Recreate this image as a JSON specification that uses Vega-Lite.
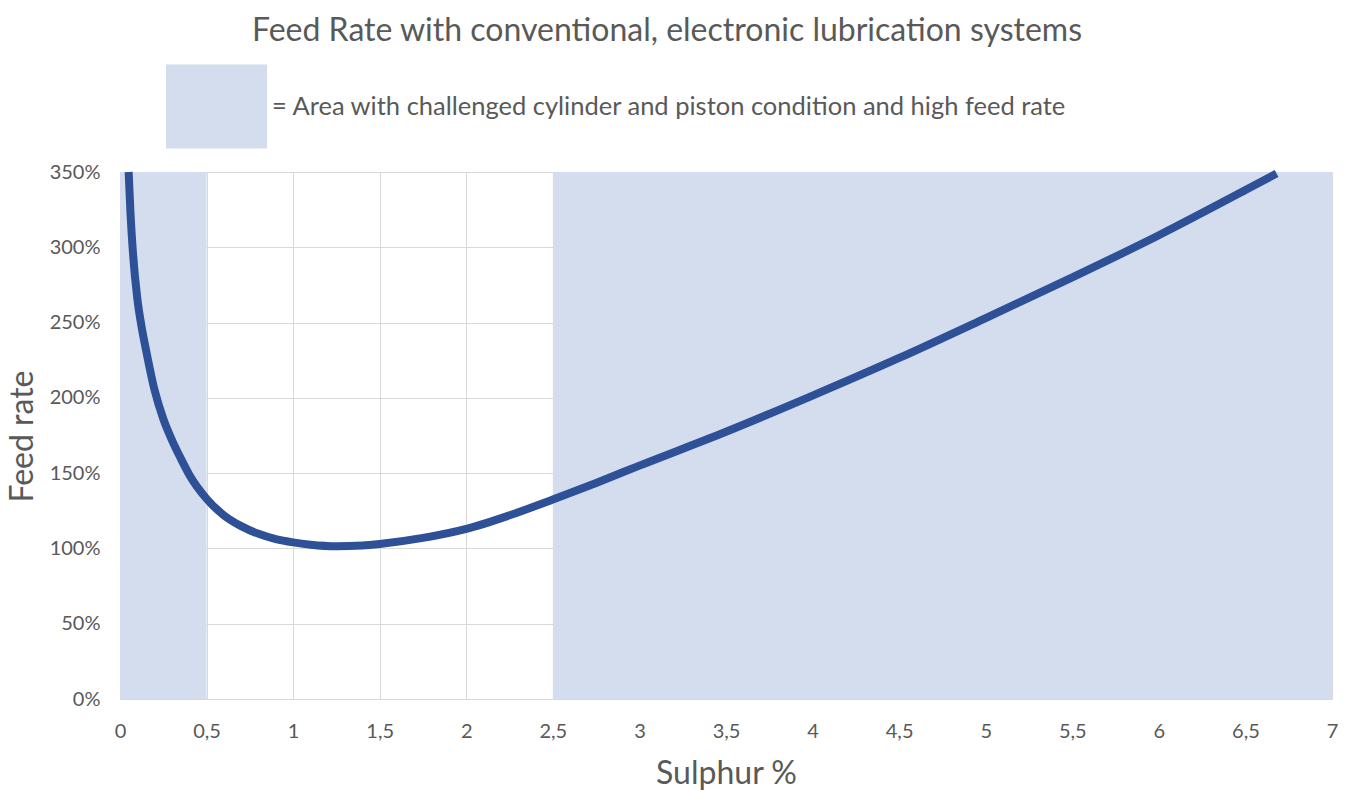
{
  "$schema": "https://vega.github.io/schema/vega-lite/v6.json",
  "width": 1212,
  "height": 527,
  "autosize": "none",
  "padding": {"left": 120, "top": 172, "right": 20, "bottom": 91},
  "config": {
    "font": "Lato",
    "view": {"stroke": null},
    "axis": {
      "labelFont": "Lato",
      "labelFontSize": 20,
      "labelColor": "#595959",
      "titleFont": "Lato",
      "titleFontSize": 32,
      "titleFontWeight": "normal",
      "titleColor": "#595959",
      "gridColor": "#d9d9d9",
      "gridWidth": 1,
      "ticks": false,
      "labelFlush": false
    }
  },
  "title": {
    "text": "Feed Rate with conventional, electronic lubrication systems",
    "fontSize": 32,
    "fontWeight": "normal",
    "color": "#595959",
    "font": "Lato",
    "anchor": "middle",
    "dx": -59,
    "offset": 8
  },
  "layer": [
    {
      "data": {
        "values": [
          {"x0": 0, "x1": 0.5, "y0": 0, "y1": 3.5, "area": "= Area with challenged cylinder and piston condition and high feed rate"},
          {"x0": 2.5, "x1": 7, "y0": 0, "y1": 3.5, "area": "= Area with challenged cylinder and piston condition and high feed rate"}
        ]
      },
      "mark": {"type": "rect"},
      "encoding": {
        "x": {
          "field": "x0",
          "type": "quantitative",
          "scale": {"domain": [0, 7], "nice": false},
          "axis": {
            "title": "Sulphur %",
            "values": [0, 0.5, 1, 1.5, 2, 2.5, 3, 3.5, 4, 4.5, 5, 5.5, 6, 6.5, 7],
            "labelExpr": "replace(format(datum.value, ''), '.', ',')",
            "labelPadding": 22,
            "domain": true,
            "domainColor": "#d9d9d9",
            "titleY": 74,
            "titleBaseline": "middle"
          }
        },
        "x2": {"field": "x1"},
        "y": {
          "field": "y0",
          "type": "quantitative",
          "scale": {"domain": [0, 3.5], "nice": false},
          "axis": {
            "title": "Feed rate",
            "values": [0, 0.5, 1, 1.5, 2, 2.5, 3, 3.5],
            "format": ".0%",
            "labelPadding": 20,
            "domain": false,
            "titleX": -98,
            "titleY": 264,
            "titleAngle": -90,
            "titleBaseline": "middle",
            "titleAlign": "center"
          }
        },
        "y2": {"field": "y1"},
        "color": {
          "field": "area",
          "type": "nominal",
          "scale": {"range": ["#d4ddee"]},
          "legend": {
            "orient": "none",
            "legendX": 46,
            "legendY": -116,
            "title": null,
            "padding": 0,
            "symbolType": "M-1,-0.832L1,-0.832L1,0.832L-1,0.832Z",
            "symbolSize": 10201,
            "symbolStrokeWidth": 0,
            "labelFont": "Lato",
            "labelFontSize": 25.5,
            "labelColor": "#595959",
            "labelOffset": 5,
            "labelLimit": 1200
          }
        }
      }
    },
    {
      "data": {
        "values": [
          {"s": 0.05, "r": 3.5},
          {"s": 0.06, "r": 3.24},
          {"s": 0.075, "r": 2.96},
          {"s": 0.1, "r": 2.66},
          {"s": 0.125, "r": 2.47},
          {"s": 0.15, "r": 2.32},
          {"s": 0.2, "r": 2.05},
          {"s": 0.25, "r": 1.86},
          {"s": 0.3, "r": 1.72},
          {"s": 0.35, "r": 1.6},
          {"s": 0.4, "r": 1.49},
          {"s": 0.5, "r": 1.33},
          {"s": 0.6, "r": 1.22},
          {"s": 0.7, "r": 1.148},
          {"s": 0.8, "r": 1.097},
          {"s": 0.9, "r": 1.062},
          {"s": 1.0, "r": 1.04},
          {"s": 1.1, "r": 1.025},
          {"s": 1.25, "r": 1.015},
          {"s": 1.4, "r": 1.02},
          {"s": 1.5, "r": 1.03},
          {"s": 1.75, "r": 1.07},
          {"s": 2.0, "r": 1.13},
          {"s": 2.25, "r": 1.22},
          {"s": 2.5, "r": 1.325},
          {"s": 2.75, "r": 1.435},
          {"s": 3.0, "r": 1.55},
          {"s": 3.5, "r": 1.775},
          {"s": 4.0, "r": 2.015},
          {"s": 4.5, "r": 2.265},
          {"s": 5.0, "r": 2.53},
          {"s": 5.5, "r": 2.8},
          {"s": 6.0, "r": 3.08},
          {"s": 6.5, "r": 3.38},
          {"s": 6.68, "r": 3.49}
        ]
      },
      "mark": {"type": "line", "interpolate": "monotone", "strokeWidth": 8, "color": "#2e5096", "strokeCap": "butt"},
      "encoding": {
        "x": {"field": "s", "type": "quantitative"},
        "y": {"field": "r", "type": "quantitative"}
      }
    }
  ]
}
